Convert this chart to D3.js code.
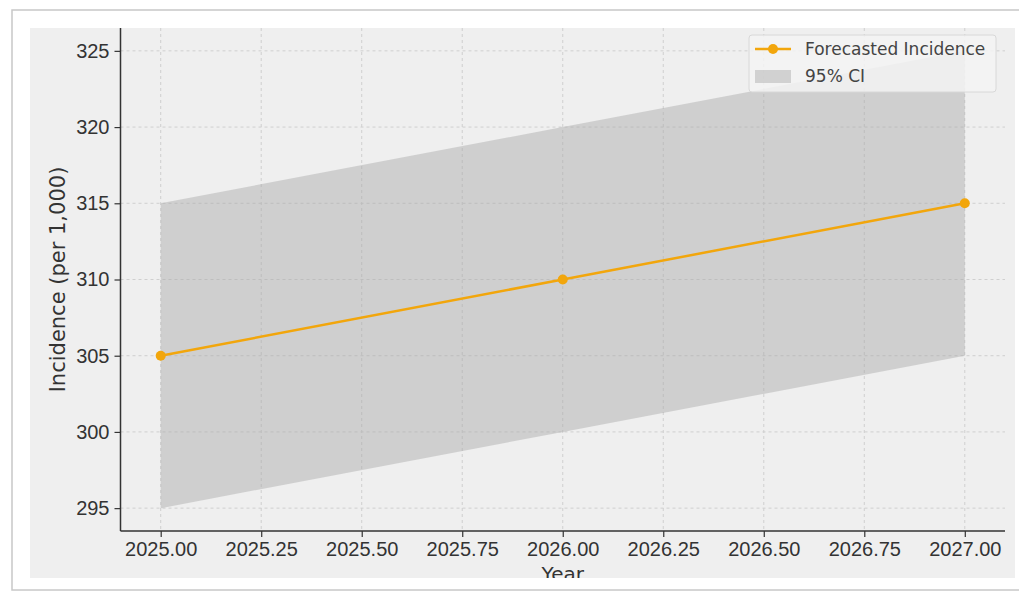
<!DOCTYPE html>
<html>
<head>
<meta charset="utf-8">
<script src="https://cdn.jsdelivr.net/npm/d3@7"></script>
<style>
  body { margin: 0; background: #fff; }
  svg { display: block; font-family: "DejaVu Sans", sans-serif; }
</style>
</head>
<body>
<svg id="chart" width="1019" height="592"></svg>
<script>
// data
const years = [2025, 2026, 2027];
const forecast = [305, 310, 315];
const ciLower = [295, 300, 305];
const ciUpper = [315, 320, 325];
const xTicks = [2025, 2025.25, 2025.5, 2025.75, 2026, 2026.25, 2026.5, 2026.75, 2027];
const yTicks = [295, 300, 305, 310, 315, 320, 325];

const rows = years.map((y, i) => ({ year: y, v: forecast[i], lo: ciLower[i], hi: ciUpper[i] }));

const chart = d3.select("#chart");
const plotLeft = 120.5, plotRight = 1005, plotTop = 28, plotBottom = 531;

// frame like a pasted screenshot
chart.append("rect").attr("x", 12).attr("y", 10).attr("width", 1019).attr("height", 580)
  .attr("fill", "#fff").attr("stroke", "#c8c8c8").attr("stroke-width", 1.5);
chart.append("rect").attr("x", 30).attr("y", 28).attr("width", 985).attr("height", 550)
  .attr("fill", "#efefef");
chart.append("clipPath").attr("id", "panel")
  .append("rect").attr("x", 30).attr("y", 28).attr("width", 985).attr("height", 550);

const x = d3.scaleLinear().domain([2024.9, 2027.1]).range([plotLeft, plotRight]);
const y = d3.scaleLinear().domain([293.5, 326.5]).range([plotBottom, plotTop]);

// grid
chart.append("g").selectAll("line").data(xTicks).enter().append("line")
  .attr("x1", d => x(d)).attr("x2", d => x(d)).attr("y1", plotTop).attr("y2", plotBottom)
  .attr("stroke", "#cfcfcf").attr("stroke-dasharray", "3,3").attr("stroke-width", 1);
chart.append("g").selectAll("line").data(yTicks).enter().append("line")
  .attr("x1", plotLeft).attr("x2", plotRight).attr("y1", d => y(d)).attr("y2", d => y(d))
  .attr("stroke", "#cfcfcf").attr("stroke-dasharray", "3,3").attr("stroke-width", 1);

// confidence band
const band = d3.area().x(d => x(d.year)).y0(d => y(d.lo)).y1(d => y(d.hi));
chart.append("path").datum(rows).attr("d", band)
  .attr("fill", "#a9a9a9").attr("fill-opacity", 0.45);

// forecast line
const line = d3.line().x(d => x(d.year)).y(d => y(d.v));
chart.append("path").datum(rows).attr("d", line)
  .attr("fill", "none").attr("stroke", "#f2a60c").attr("stroke-width", 2.5);
chart.selectAll(".pt").data(rows).enter().append("circle")
  .attr("cx", d => x(d.year)).attr("cy", d => y(d.v)).attr("r", 5)
  .attr("fill", "#f2a60c");

// axes
const xAxis = d3.axisBottom(x).tickValues(xTicks).tickFormat(d3.format(".2f")).tickSize(6).tickPadding(5);
const xg = chart.append("g").attr("transform", "translate(0," + plotBottom + ")").call(xAxis);
const yAxis = d3.axisLeft(y).tickValues(yTicks).tickSize(6).tickPadding(5);
const yg = chart.append("g").attr("transform", "translate(" + plotLeft + ",0)").call(yAxis);
[xg, yg].forEach(g => {
  g.select(".domain").attr("stroke", "#333").attr("stroke-width", 1.5);
  g.selectAll(".tick line").attr("stroke", "#333").attr("stroke-width", 1.2);
  g.selectAll(".tick text").attr("fill", "#333").style("font-size", "20px");
});
xg.select(".domain").attr("d", "M" + plotLeft + ",0H" + plotRight);
yg.select(".domain").attr("d", "M0," + plotTop + "V" + plotBottom);

// axis labels (x label is cut off by the panel edge in the original)
chart.append("text").text("Year")
  .attr("clip-path", "url(#panel)")
  .attr("x", (plotLeft + plotRight) / 2).attr("y", 581)
  .attr("text-anchor", "middle").attr("fill", "#333").style("font-size", "20px");
chart.append("text").text("Incidence (per 1,000)")
  .attr("transform", "translate(65," + ((plotTop + plotBottom) / 2) + ") rotate(-90)")
  .attr("text-anchor", "middle").attr("fill", "#333").style("font-size", "21px");

// legend
const lg = chart.append("g");
lg.append("rect").attr("x", 749).attr("y", 35).attr("width", 247).attr("height", 57).attr("rx", 3)
  .attr("fill", "#f3f3f3").attr("fill-opacity", 0.85).attr("stroke", "#d8d8d8");
lg.append("line").attr("x1", 755).attr("x2", 791).attr("y1", 49).attr("y2", 49)
  .attr("stroke", "#f2a60c").attr("stroke-width", 2.5);
lg.append("circle").attr("cx", 773).attr("cy", 49).attr("r", 5).attr("fill", "#f2a60c");
lg.append("rect").attr("x", 755).attr("y", 70).attr("width", 36).attr("height", 13)
  .attr("fill", "#a9a9a9").attr("fill-opacity", 0.45);
lg.append("text").text("Forecasted Incidence").attr("x", 805).attr("y", 55)
  .attr("fill", "#444").style("font-size", "17px");
lg.append("text").text("95% CI").attr("x", 805).attr("y", 82)
  .attr("fill", "#444").style("font-size", "17px");
</script>
</body>
</html>
